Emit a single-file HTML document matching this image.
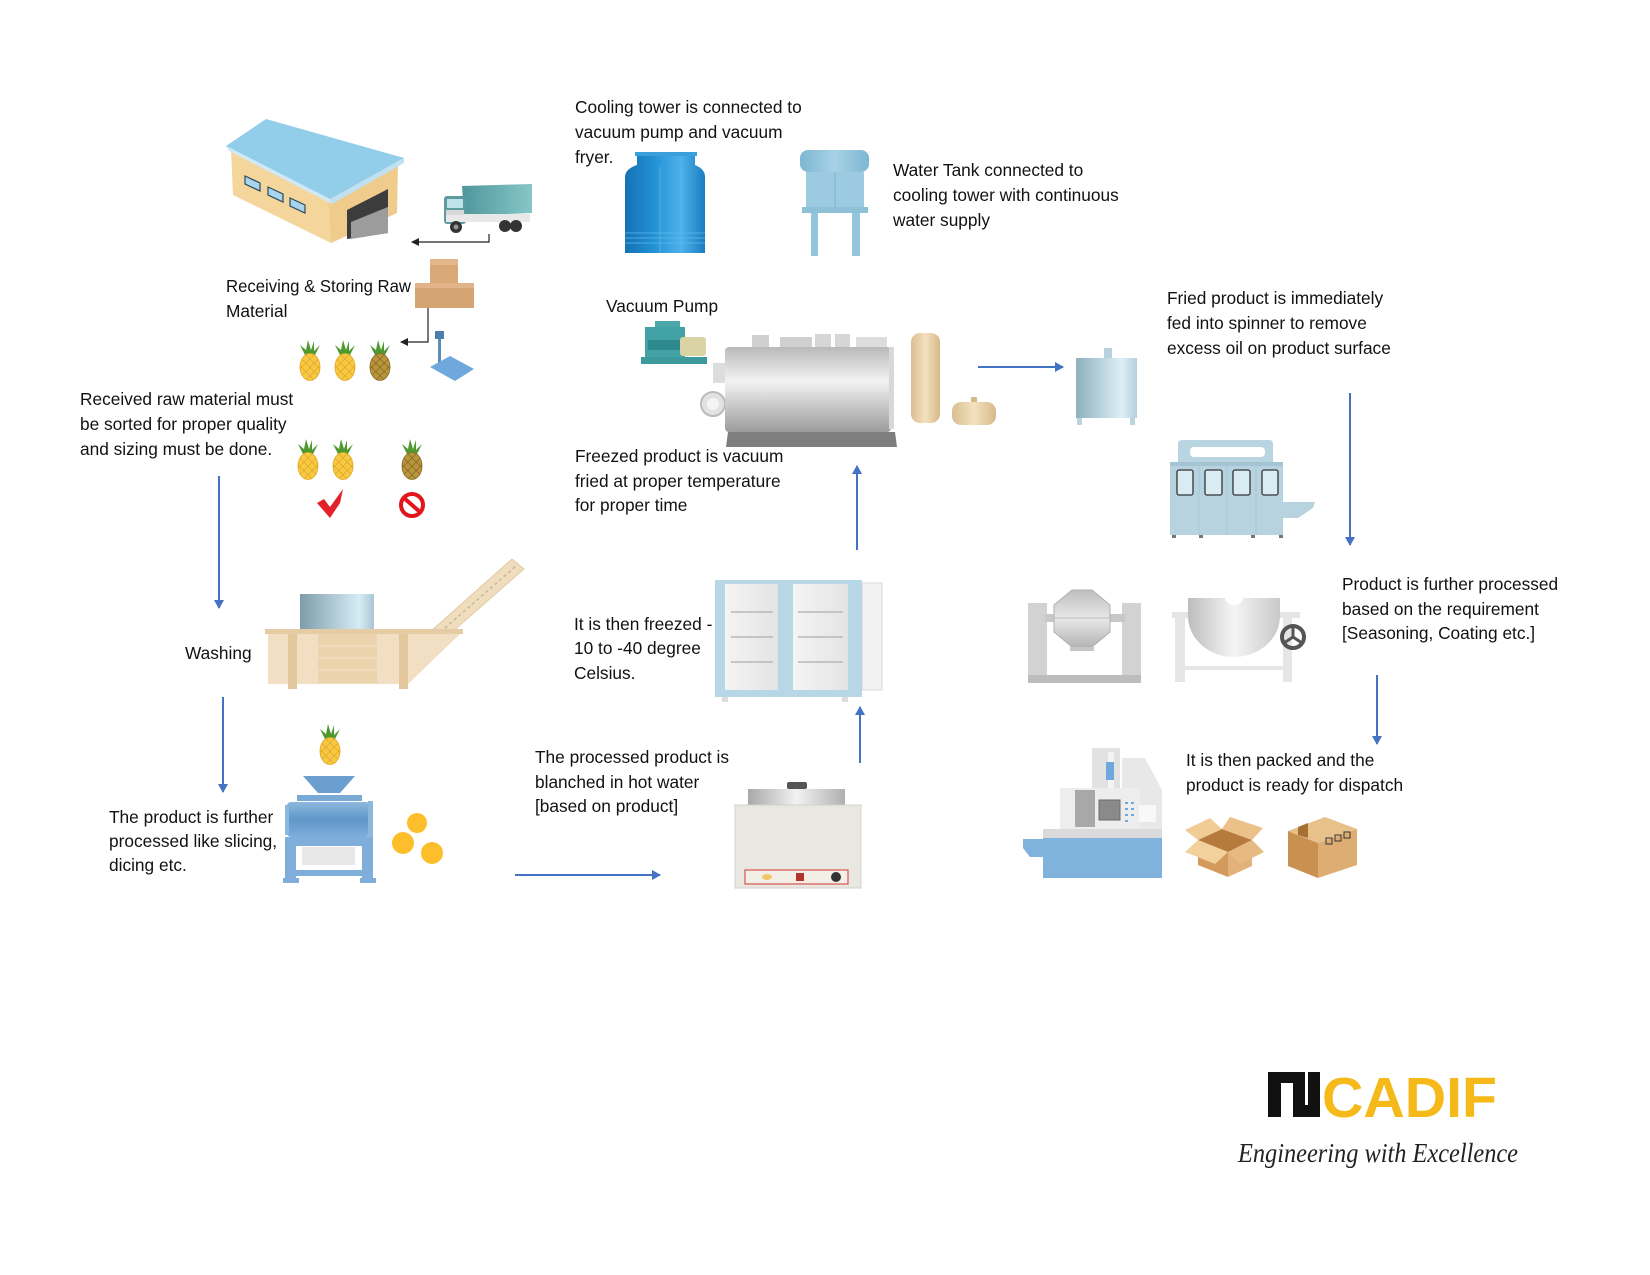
<!DOCTYPE html>
<html><head><meta charset="utf-8"><style>
html,body{margin:0;padding:0;background:#fff;}
svg{display:block;}
text{font-family:"Liberation Sans",Arial,sans-serif;font-size:17.3px;fill:#111;}
</style></head><body>
<svg width="1650" height="1275" viewBox="0 0 1650 1275" xmlns="http://www.w3.org/2000/svg">
<defs>
<pattern id="hatch" width="6" height="6" patternUnits="userSpaceOnUse" patternTransform="rotate(45)"><rect width="6" height="6" fill="#F7C842"/><path d="M0 0H6M0 0V6" stroke="#D9981C" stroke-width="1"/></pattern>
<pattern id="hatchD" width="6" height="6" patternUnits="userSpaceOnUse" patternTransform="rotate(45)"><rect width="6" height="6" fill="#B8953A"/><path d="M0 0H6M0 0V6" stroke="#6E531A" stroke-width="1"/></pattern>
<g id="pa"><polygon points="-5,-12 -10,-22 -4,-17 -2,-27 1,-17 4,-26 4,-16 10,-22 5,-12" fill="#4F9A30"/><ellipse cx="0" cy="0" rx="10" ry="13.5" fill="url(#hatch)" stroke="#E0A820" stroke-width="0.8"/></g>
<g id="paD"><polygon points="-5,-12 -10,-22 -4,-17 -2,-27 1,-17 4,-26 4,-16 10,-22 5,-12" fill="#4F9A30"/><ellipse cx="0" cy="0" rx="10" ry="13.5" fill="url(#hatchD)" stroke="#8A6A20" stroke-width="0.8"/></g>
<linearGradient id="steelH" x1="0" x2="1" y1="0" y2="0"><stop offset="0" stop-color="#7E9CAB"/><stop offset="0.8" stop-color="#D6ECF5"/><stop offset="1" stop-color="#A9C6D3"/></linearGradient>
<linearGradient id="spin" x1="0" x2="1"><stop offset="0" stop-color="#8FB0BE"/><stop offset="0.75" stop-color="#DDEFF6"/><stop offset="1" stop-color="#B5D0DC"/></linearGradient>
<linearGradient id="ct" x1="0" x2="1"><stop offset="0" stop-color="#1572B3"/><stop offset="0.35" stop-color="#2190D4"/><stop offset="0.7" stop-color="#4DB2EA"/><stop offset="1" stop-color="#1A7CC0"/></linearGradient>
<linearGradient id="wt" x1="0" x2="1"><stop offset="0" stop-color="#7DB7D2"/><stop offset="0.5" stop-color="#A7D2E5"/><stop offset="1" stop-color="#7DB7D2"/></linearGradient>
<linearGradient id="fry" x1="0" x2="0" y1="0" y2="1"><stop offset="0" stop-color="#B9B9B9"/><stop offset="0.4" stop-color="#F3F3F3"/><stop offset="1" stop-color="#9C9C9C"/></linearGradient>
<linearGradient id="tan" x1="0" x2="1"><stop offset="0" stop-color="#D9BE92"/><stop offset="0.5" stop-color="#F4E1BE"/><stop offset="1" stop-color="#D6B98A"/></linearGradient>
<linearGradient id="slic" x1="0" x2="0" y1="0" y2="1"><stop offset="0" stop-color="#8DB8DE"/><stop offset="0.5" stop-color="#5F97C9"/><stop offset="1" stop-color="#7FAEDB"/></linearGradient>
<linearGradient id="door" x1="0" x2="1"><stop offset="0" stop-color="#F4F4F4"/><stop offset="1" stop-color="#E4E4E4"/></linearGradient>
<linearGradient id="lid" x1="0" x2="1"><stop offset="0" stop-color="#A8A8A8"/><stop offset="0.5" stop-color="#F2F2F2"/><stop offset="1" stop-color="#B0B0B0"/></linearGradient>
<linearGradient id="bowl" x1="0" x2="1"><stop offset="0" stop-color="#BDBDBD"/><stop offset="0.5" stop-color="#F5F5F5"/><stop offset="1" stop-color="#C9C9C9"/></linearGradient>
<linearGradient id="cone" x1="0" x2="0" y1="0" y2="1"><stop offset="0" stop-color="#BEBEBE"/><stop offset="0.5" stop-color="#E8E8E8"/><stop offset="1" stop-color="#B5B5B5"/></linearGradient>
<linearGradient id="truck" x1="0" x2="1"><stop offset="0" stop-color="#4F979C"/><stop offset="1" stop-color="#86C6C8"/></linearGradient>
<marker id="ah" markerWidth="10" markerHeight="10" refX="8" refY="5" orient="auto" markerUnits="userSpaceOnUse"><path d="M0,0 L9,5 L0,10 z" fill="#4472C4"/></marker>
<marker id="ahS" markerWidth="8" markerHeight="8" refX="7" refY="4" orient="auto" markerUnits="userSpaceOnUse"><path d="M0,0 L8,4 L0,8 z" fill="#222"/></marker>
</defs>

<!-- ===== Warehouse ===== -->
<polygon points="231,150 328,197 331,243 233,195" fill="#F4D59C"/>
<polygon points="328,197 398,162 397,213 331,243" fill="#EFCB8C"/>
<polygon points="226,146 266,119 404,158 330,199" fill="#92CDEA"/>
<polygon points="226,146 330,199 332,204 229,151" fill="#CFE9F6"/>
<polygon points="330,199 404,158 404,163 332,204" fill="#BFE1F2"/>
<polygon points="347,210 388,189 388,233 347,239" fill="#3C3C3C"/>
<polygon points="351,222 388,207 388,233 351,239" fill="#9C9C9C"/>
<polygon points="245,176 260,183 260,191 245,184" fill="#A9D4EE" stroke="#2B4A5A" stroke-width="1.2"/>
<polygon points="268,187 283,194 283,202 268,195" fill="#A9D4EE" stroke="#2B4A5A" stroke-width="1.2"/>
<polygon points="290,198 305,205 305,213 290,206" fill="#A9D4EE" stroke="#2B4A5A" stroke-width="1.2"/>

<!-- ===== Truck ===== -->
<polygon points="462,186 532,184 532,213 464,216" fill="url(#truck)"/>
<rect x="444" y="196" width="22" height="28" rx="3" fill="#5C9CA1"/>
<rect x="447" y="199" width="16" height="9" fill="#BFE2EA"/>
<rect x="446" y="214" width="84" height="8" fill="#E8E8E8"/>
<rect x="446" y="210" width="18" height="5" fill="#D8D8D8"/>
<circle cx="456" cy="227" r="6" fill="#333"/><circle cx="456" cy="227" r="2.5" fill="#999"/>
<circle cx="505" cy="226" r="6" fill="#333"/><circle cx="516" cy="226" r="6" fill="#333"/>

<!-- small connectors -->
<polyline points="489,234 489,242 412,242" fill="none" stroke="#222" stroke-width="1.2" marker-end="url(#ahS)"/>
<polyline points="428,308 428,342 401,342" fill="none" stroke="#222" stroke-width="1.2" marker-end="url(#ahS)"/>

<!-- ===== Cardboard boxes ===== -->
<rect x="430" y="259" width="28" height="24" fill="#D9A877"/>
<rect x="430" y="259" width="28" height="6" fill="#E4B78A"/>
<rect x="415" y="283" width="59" height="25" fill="#D5A473"/>
<rect x="415" y="283" width="59" height="5" fill="#E2B487"/>

<!-- ===== Scale ===== -->
<rect x="438" y="337" width="3" height="26" fill="#5B8DB8"/>
<rect x="435" y="331" width="9" height="8" fill="#4A7EAD"/>
<polygon points="430,367 450,356 474,369 455,381" fill="#6FA8DC"/>

<!-- ===== Pineapples ===== -->
<use href="#pa" x="310" y="367"/>
<use href="#pa" x="345" y="367"/>
<use href="#paD" x="380" y="367"/>
<use href="#pa" x="308" y="466"/>
<use href="#pa" x="343" y="466"/>
<use href="#paD" x="412" y="466"/>
<use href="#pa" x="330" y="751"/>

<!-- check / no -->
<polygon points="317,503 324,499 330,507 343,489 340,503 330,518" fill="#E4202A"/>
<circle cx="412" cy="505" r="11" fill="none" stroke="#E2141C" stroke-width="4"/>
<line x1="404" y1="498" x2="420" y2="512" stroke="#E2141C" stroke-width="4"/>

<!-- ===== Washer ===== -->
<polygon points="430,632 512,559 524,569 452,632" fill="#EFDDBE" stroke="#E2C9A0" stroke-width="1"/>
<line x1="445" y1="628" x2="516" y2="566" stroke="#C9B59A" stroke-width="1.5" stroke-dasharray="3,3"/>
<rect x="300" y="594" width="74" height="36" fill="url(#steelH)"/>
<rect x="265" y="629" width="198" height="5" fill="#E6CCA4"/>
<rect x="268" y="634" width="140" height="50" fill="#F1DEC3"/>
<polygon points="408,634 460,634 408,684" fill="#F1DEC3"/>
<rect x="288" y="634" width="9" height="55" fill="#E3C79D"/>
<rect x="399" y="634" width="9" height="55" fill="#E3C79D"/>
<rect x="318" y="634" width="59" height="49" fill="#EBD3AD"/>
<line x1="318" y1="646" x2="377" y2="646" stroke="#F6E6CC"/>
<line x1="318" y1="658" x2="377" y2="658" stroke="#F6E6CC"/>
<line x1="318" y1="670" x2="377" y2="670" stroke="#F6E6CC"/>

<!-- ===== Slicer ===== -->
<polygon points="303,776 355,776 340,793 318,793" fill="#6A9FCF"/>
<rect x="297" y="795" width="65" height="6" fill="#79AAD6"/>
<rect x="287" y="802" width="83" height="35" rx="4" fill="url(#slic)"/>
<rect x="285" y="805" width="4" height="30" fill="#8DB8DE"/>
<rect x="368" y="801" width="5" height="37" fill="#8DB8DE"/>
<rect x="285" y="837" width="88" height="9" fill="#7FAEDB"/>
<rect x="285" y="837" width="11" height="46" fill="#7FAEDB"/>
<rect x="362" y="837" width="11" height="46" fill="#7FAEDB"/>
<rect x="302" y="847" width="53" height="18" fill="#E8E8E8"/>
<rect x="285" y="870" width="88" height="6" fill="#7FAEDB"/>
<rect x="283" y="878" width="16" height="5" fill="#7FAEDB"/><rect x="360" y="878" width="16" height="5" fill="#7FAEDB"/>
<circle cx="417" cy="823" r="10" fill="#FDBE2C"/>
<circle cx="403" cy="843" r="11" fill="#FDBE2C"/>
<circle cx="432" cy="853" r="11" fill="#FDBE2C"/>

<!-- ===== Blancher ===== -->
<rect x="787" y="782" width="20" height="7" rx="2" fill="#555"/>
<rect x="748" y="789" width="97" height="16" fill="url(#lid)"/>
<rect x="735" y="805" width="126" height="83" fill="#E9E7E1" stroke="#D3D0C8"/>
<rect x="745" y="870" width="103" height="14" fill="#F3EFE7" stroke="#D9534F" stroke-width="1.2"/>
<ellipse cx="767" cy="877" rx="5" ry="3" fill="#F1C66A"/>
<rect x="796" y="873" width="8" height="8" fill="#B5332B"/>
<circle cx="836" cy="877" r="5" fill="#333"/>

<!-- ===== Freezer ===== -->
<rect x="862" y="583" width="20" height="107" fill="#F2F2F2" stroke="#DADADA"/>
<rect x="715" y="580" width="147" height="117" fill="#B7D6E6"/>
<rect x="725" y="584" width="53" height="106" fill="url(#door)"/>
<rect x="793" y="584" width="55" height="106" fill="url(#door)"/>
<g stroke="#B8B8B8" stroke-width="1.5">
<line x1="731" y1="612" x2="773" y2="612"/><line x1="731" y1="637" x2="773" y2="637"/><line x1="731" y1="662" x2="773" y2="662"/>
<line x1="798" y1="612" x2="843" y2="612"/><line x1="798" y1="637" x2="843" y2="637"/><line x1="798" y1="662" x2="843" y2="662"/>
</g>
<rect x="722" y="697" width="6" height="5" fill="#DDD"/><rect x="842" y="697" width="6" height="5" fill="#DDD"/>

<!-- ===== Cooling tower ===== -->
<path d="M637,153 h58 v12 q10,4 10,12 v76 h-80 v-76 q0,-8 12,-12 z" fill="url(#ct)"/>
<rect x="635" y="152" width="62" height="4" fill="#3AA0DC"/>
<g stroke="#5CB8EA" stroke-width="1" opacity="0.8">
<line x1="625" y1="233" x2="705" y2="233"/><line x1="625" y1="238" x2="705" y2="238"/><line x1="625" y1="243" x2="705" y2="243"/>
<line x1="660" y1="167" x2="660" y2="253"/><line x1="682" y1="167" x2="682" y2="253"/>
</g>

<!-- ===== Water tank ===== -->
<rect x="800" y="150" width="69" height="22" rx="8" fill="url(#wt)"/>
<rect x="806" y="172" width="58" height="35" fill="#9CCAE0"/>
<line x1="835" y1="172" x2="835" y2="207" stroke="#7DB2CC"/>
<rect x="802" y="207" width="66" height="6" fill="#8EC0D8"/>
<rect x="811" y="213" width="7" height="43" fill="#93C6DD"/>
<rect x="852" y="213" width="8" height="43" fill="#93C6DD"/>

<!-- ===== Vacuum pump ===== -->
<rect x="655" y="321" width="25" height="6" fill="#4AA6A8"/>
<rect x="645" y="327" width="40" height="30" fill="#43A2A5"/>
<rect x="648" y="340" width="34" height="10" fill="#2F8A8D"/>
<rect x="680" y="337" width="26" height="19" rx="3" fill="#DAD4A4"/>
<rect x="641" y="357" width="66" height="7" fill="#3D9A9C"/>

<!-- ===== Fryer ===== -->
<rect x="752" y="335" width="17" height="12" fill="#D0D0D0"/>
<rect x="780" y="337" width="32" height="10" fill="#D0D0D0"/>
<rect x="815" y="334" width="16" height="13" fill="#D6D6D6"/>
<rect x="835" y="334" width="15" height="13" fill="#D6D6D6"/>
<rect x="856" y="337" width="31" height="10" fill="#DDDDDD"/>
<rect x="713" y="363" width="13" height="20" fill="#DDD"/>
<circle cx="713" cy="404" r="12" fill="#E2E2E2" stroke="#BBB" stroke-width="2"/>
<circle cx="713" cy="404" r="6" fill="#F4F4F4"/>
<rect x="725" y="347" width="166" height="85" rx="4" fill="url(#fry)"/>
<rect x="889" y="347" width="5" height="82" fill="#D8D8D8"/>
<polygon points="728,432 895,432 897,447 726,447" fill="#7E7E7E"/>
<!-- tanks -->
<rect x="911" y="333" width="29" height="90" rx="9" fill="url(#tan)"/>
<rect x="971" y="397" width="6" height="7" fill="#D6B98A"/>
<rect x="952" y="402" width="44" height="23" rx="9" fill="url(#tan)"/>
<!-- spinner -->
<rect x="1104" y="348" width="8" height="10" fill="#B7D2DE"/>
<rect x="1076" y="358" width="61" height="60" fill="url(#spin)"/>
<rect x="1077" y="418" width="5" height="7" fill="#BCD4DE"/><rect x="1130" y="418" width="5" height="7" fill="#BCD4DE"/>

<!-- ===== Sorter ===== -->
<path d="M1178,462 v-18 q0,-4 4,-4 h87 q4,0 4,4 v18 z" fill="#B9D5E2"/>
<rect x="1190" y="447" width="75" height="10" rx="4" fill="#fff"/>
<rect x="1170" y="462" width="113" height="73" fill="#B7D3E0"/>
<rect x="1170" y="462" width="113" height="4" fill="#A4C4D3"/>
<g fill="#D9ECF4" stroke="#333" stroke-width="1.3">
<rect x="1177" y="470" width="16" height="25" rx="2"/><rect x="1205" y="470" width="17" height="25" rx="2"/>
<rect x="1233" y="470" width="17" height="25" rx="2"/><rect x="1262" y="470" width="16" height="25" rx="2"/>
</g>
<g stroke="#A9C7D5"><line x1="1199" y1="466" x2="1199" y2="535"/><line x1="1227" y1="466" x2="1227" y2="535"/><line x1="1256" y1="466" x2="1256" y2="535"/></g>
<polygon points="1283,502 1315,502 1313,508 1298,518 1283,518" fill="#B7D3E0"/>
<g fill="#777"><rect x="1172" y="535" width="4" height="3"/><rect x="1199" y="535" width="4" height="3"/><rect x="1251" y="535" width="4" height="3"/><rect x="1279" y="535" width="4" height="3"/></g>

<!-- ===== Double cone blender ===== -->
<rect x="1028" y="603" width="19" height="80" fill="#D2D2D2"/>
<rect x="1122" y="603" width="19" height="80" fill="#D2D2D2"/>
<rect x="1028" y="675" width="113" height="8" fill="#BDBDBD"/>
<rect x="1045" y="614" width="80" height="8" fill="#C8C8C8"/>
<polygon points="1072,590 1092,590 1110,605 1110,632 1092,647 1072,647 1054,632 1054,605" fill="url(#cone)" stroke="#B0B0B0"/>
<line x1="1054" y1="618" x2="1110" y2="618" stroke="#BDBDBD"/>
<rect x="1070" y="647" width="24" height="4" fill="#C6C6C6"/>

<!-- ===== Kettle ===== -->
<rect x="1172" y="612" width="128" height="6" fill="#E4E4E4"/>
<rect x="1175" y="612" width="10" height="70" fill="#E6E6E6"/>
<rect x="1283" y="612" width="9" height="70" fill="#E6E6E6"/>
<rect x="1180" y="666" width="108" height="4" fill="#E6E6E6"/>
<path d="M1188,598 h92 v18 a46,41 0 0 1 -92,0 z" fill="url(#bowl)"/>
<path d="M1225,598 a9,7 0 0 0 18,0 z" fill="#fff"/>
<circle cx="1293" cy="637" r="11" fill="none" stroke="#555" stroke-width="4"/>
<g stroke="#555" stroke-width="3"><line x1="1293" y1="637" x2="1293" y2="627"/><line x1="1293" y1="637" x2="1284" y2="643"/><line x1="1293" y1="637" x2="1302" y2="643"/></g>

<!-- ===== Packing machine ===== -->
<rect x="1092" y="748" width="28" height="40" fill="#E2E2E2"/>
<rect x="1108" y="752" width="6" height="36" fill="#F4F4F4"/>
<rect x="1106" y="762" width="8" height="18" fill="#6FA8DC"/>
<polygon points="1122,758 1145,758 1162,790 1162,838 1122,838" fill="#E8E8E8"/>
<rect x="1060" y="788" width="80" height="50" fill="#EDEDED"/>
<rect x="1075" y="790" width="20" height="37" fill="#A8A8A8"/>
<rect x="1099" y="800" width="21" height="20" fill="#8A8A8A" stroke="#6A6A6A"/>
<g fill="#6FA8DC"><rect x="1125" y="802" width="3" height="2"/><rect x="1125" y="808" width="3" height="2"/><rect x="1125" y="814" width="3" height="2"/><rect x="1125" y="820" width="3" height="2"/><rect x="1131" y="802" width="3" height="2"/><rect x="1131" y="808" width="3" height="2"/><rect x="1131" y="814" width="3" height="2"/></g>
<rect x="1139" y="805" width="17" height="17" fill="#F8F8F8"/>
<rect x="1043" y="829" width="119" height="9" fill="#DADADA"/>
<rect x="1043" y="838" width="119" height="40" fill="#7FB2DC"/>
<polygon points="1023,839 1043,839 1043,857 1030,857 1023,848" fill="#7FB2DC"/>

<!-- ===== Cardboard boxes (dispatch) ===== -->
<polygon points="1198,840 1228,852 1228,877 1198,865" fill="#D39A5C"/>
<polygon points="1228,852 1252,840 1252,866 1228,877" fill="#E3B27A"/>
<polygon points="1198,840 1222,829 1252,840 1228,852" fill="#B57A3E"/>
<polygon points="1198,840 1185,830 1210,818 1222,829" fill="#F1CC94"/>
<polygon points="1222,829 1230,817 1263,828 1252,840" fill="#EBC089"/>
<polygon points="1198,840 1185,852 1215,864 1228,852" fill="#F3D19D"/>
<polygon points="1252,840 1264,852 1240,864 1228,852" fill="#E6BA82"/>
<polygon points="1288,831 1318,843 1318,878 1288,866" fill="#C9904F"/>
<polygon points="1318,843 1357,829 1357,865 1318,878" fill="#DDAD72"/>
<polygon points="1288,831 1325,817 1357,829 1318,843" fill="#E8C08A"/>
<polygon points="1298,827 1308,823 1308,838 1298,835" fill="#A66F34"/>
<g fill="none" stroke="#333" stroke-width="1"><rect x="1326" y="838" width="6" height="6"/><rect x="1335" y="835" width="6" height="6"/><rect x="1344" y="832" width="6" height="6"/></g>

<!-- ===== Blue flow arrows ===== -->
<g stroke="#4472C4" stroke-width="2" fill="none">
<line x1="219" y1="476" x2="219" y2="608" marker-end="url(#ah)"/>
<line x1="223" y1="697" x2="223" y2="792" marker-end="url(#ah)"/>
<line x1="515" y1="875" x2="660" y2="875" marker-end="url(#ah)"/>
<line x1="860" y1="763" x2="860" y2="707" marker-end="url(#ah)"/>
<line x1="857" y1="550" x2="857" y2="466" marker-end="url(#ah)"/>
<line x1="978" y1="367" x2="1063" y2="367" marker-end="url(#ah)"/>
<line x1="1350" y1="393" x2="1350" y2="545" marker-end="url(#ah)"/>
<line x1="1377" y1="675" x2="1377" y2="744" marker-end="url(#ah)"/>
</g>

<!-- ===== Texts ===== -->
<text x="575" y="113">Cooling tower is connected to</text>
<text x="575" y="138">vacuum pump and vacuum</text>
<text x="575" y="163">fryer.</text>

<text x="893" y="176">Water Tank connected to</text>
<text x="893" y="201">cooling tower with continuous</text>
<text x="893" y="226">water supply</text>

<text x="226" y="292" textLength="185" lengthAdjust="spacingAndGlyphs">Receiving &amp; Storing Raw</text>
<text x="226" y="317">Material</text>

<text x="606" y="312">Vacuum Pump</text>

<text x="1167" y="304">Fried product is immediately</text>
<text x="1167" y="329">fed into spinner to remove</text>
<text x="1167" y="354">excess oil on product surface</text>

<text x="80" y="405">Received raw material must</text>
<text x="80" y="430">be sorted for proper quality</text>
<text x="80" y="455">and sizing must be done.</text>

<text x="575" y="462">Freezed product is vacuum</text>
<text x="575" y="487">fried at proper temperature</text>
<text x="575" y="511">for proper time</text>

<text x="1342" y="590">Product is further processed</text>
<text x="1342" y="615">based on the requirement</text>
<text x="1342" y="639">[Seasoning, Coating etc.]</text>

<text x="574" y="630">It is then freezed -</text>
<text x="574" y="654">10 to -40 degree</text>
<text x="574" y="679">Celsius.</text>

<text x="185" y="659">Washing</text>

<text x="535" y="763">The processed product is</text>
<text x="535" y="788">blanched in hot water</text>
<text x="535" y="812">[based on product]</text>

<text x="1186" y="766">It is then packed and the</text>
<text x="1186" y="791">product is ready for dispatch</text>

<text x="109" y="823">The product is further</text>
<text x="109" y="847">processed like slicing,</text>
<text x="109" y="871">dicing etc.</text>

<!-- ===== Logo ===== -->
<g fill="#111">
<rect x="1268" y="1072" width="13" height="45"/>
<rect x="1268" y="1072" width="37" height="11"/>
<rect x="1293" y="1072" width="12" height="34"/>
<rect x="1293" y="1105" width="27" height="12"/>
<rect x="1308" y="1072" width="12" height="45"/>
</g>
<text x="1322" y="1117" style="font-family:'Liberation Sans',Arial,sans-serif;font-weight:bold;font-size:57px;fill:#F6B91A;" textLength="175" lengthAdjust="spacingAndGlyphs">CADIF</text>
<text x="1238" y="1162" style="font-family:'Liberation Serif',serif;font-style:italic;font-size:27px;fill:#222;" textLength="280" lengthAdjust="spacingAndGlyphs">Engineering with Excellence</text>
</svg>
</body></html>
